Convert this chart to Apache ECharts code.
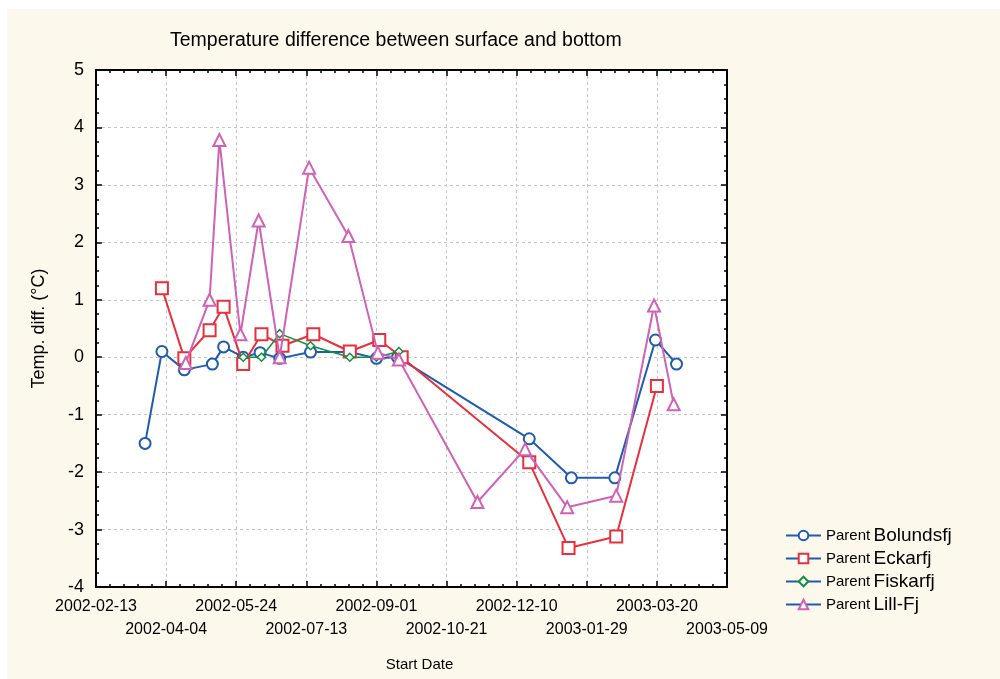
<!DOCTYPE html>
<html>
<head>
<meta charset="utf-8">
<title>Temperature difference between surface and bottom</title>
<script src="https://cdn.jsdelivr.net/npm/echarts@6/dist/echarts.min.js"></script>
<style>
  html, body { margin: 0; padding: 0; background: #ffffff; }
  #frame { position: absolute; left: 7px; top: 9px; right: 0; bottom: 0; background: #fcf8ec; }
  #chart { position: absolute; left: 0; top: 0; width: 1000px; height: 679px; }
</style>
</head>
<body>
<div id="frame"></div>
<div id="chart"></div>
<script>
// x axis is counted in days from the first tick
const startDate = '2002-02-13';
const xTickLabels = ['2002-02-13', '2002-04-04', '2002-05-24', '2002-07-13', '2002-09-01',
  '2002-10-21', '2002-12-10', '2003-01-29', '2003-03-20', '2003-05-09'];

const bolundDates = ['2002-03-20', '2002-04-01', '2002-04-17', '2002-05-07', '2002-05-15',
  '2002-05-29', '2002-06-10', '2002-06-24', '2002-07-16', '2002-08-13', '2002-09-01',
  '2002-09-16', '2002-12-19', '2003-01-18', '2003-02-18', '2003-03-19', '2003-04-03'];
const bolundValues = [-1.5, 0.1, -0.22, -0.12, 0.18, 0.0, 0.08, -0.02, 0.09, 0.09, -0.02,
  0.0, -1.42, -2.1, -2.1, 0.3, -0.12];

const eckarDates = ['2002-04-01', '2002-04-17', '2002-05-05', '2002-05-15', '2002-05-29',
  '2002-06-11', '2002-06-26', '2002-07-18', '2002-08-13', '2002-09-03', '2002-09-19',
  '2002-12-19', '2003-01-16', '2003-02-19', '2003-03-20'];
const eckarValues = [1.2, -0.02, 0.47, 0.88, -0.12, 0.4, 0.2, 0.4, 0.1, 0.3, 0.0,
  -1.83, -3.32, -3.12, -0.5];

const fiskarDates = ['2002-05-29', '2002-06-11', '2002-06-24', '2002-07-16', '2002-08-13',
  '2002-09-01', '2002-09-17'];
const fiskarValues = [0.0, 0.0, 0.41, 0.2, 0.0, 0.0, 0.1];

const lillDates = ['2002-04-18', '2002-05-05', '2002-05-12', '2002-05-27', '2002-06-09',
  '2002-06-24', '2002-07-15', '2002-08-12', '2002-09-02', '2002-09-17', '2002-11-12',
  '2002-12-16', '2003-01-15', '2003-02-19', '2003-03-18', '2003-04-01'];
const lillValues = [-0.1, 1.0, 3.78, 0.4, 2.38, 0.0, 3.3, 2.11, 0.08, -0.04, -2.52,
  -1.6, -2.61, -2.41, 0.9, -0.82];

const DAY = 86400000;
function dayOf(d) {
  return Math.round((Date.parse(d + 'T00:00:00Z') - Date.parse(startDate + 'T00:00:00Z')) / DAY);
}
function pairs(dates, values) {
  return dates.map((d, i) => [dayOf(d), values[i]]);
}

const font = 'Liberation Sans, Arial, sans-serif';
const legendLine = '#1f5cae';

const chart = echarts.init(document.getElementById('chart'));

const xBase = {
  type: 'value',
  min: 0,
  max: 450,
  interval: 50,
  axisLine: { onZero: false, lineStyle: { color: '#000', width: 2 } },
  axisTick: { inside: true, length: 6, lineStyle: { color: '#000', width: 1.5 } },
  minorTick: { show: true, splitNumber: 5, length: 3, lineStyle: { color: '#000', width: 1.5 } }
};
const yBase = {
  type: 'value',
  min: -4,
  max: 5,
  interval: 1,
  axisLine: { onZero: false, lineStyle: { color: '#000', width: 2 } },
  axisTick: { inside: true, length: 6, lineStyle: { color: '#000', width: 1.5 } },
  minorTick: { show: true, splitNumber: 4, length: 3, lineStyle: { color: '#000', width: 1.5 } }
};
const gridLine = { show: true, lineStyle: { color: '#c4c4c4', type: [3, 3], width: 1 } };

// labels alternate between two rows: even ticks on the first, odd on the second
function rowLabel(row) {
  return v => {
    const i = Math.round(v / 50);
    return i % 2 === row ? xTickLabels[i] : '';
  };
}

function lineSeries(name, data, color, symbol, size, width, z) {
  return {
    name: name,
    type: 'line',
    data: data,
    symbol: symbol,
    symbolSize: size,
    showAllSymbol: true,
    z: z,
    lineStyle: { color: color, width: width },
    itemStyle: { color: '#ffffff', borderColor: color, borderWidth: width },
    emphasis: { disabled: true },
    animation: false
  };
}

chart.setOption({
  animation: false,
  textStyle: { fontFamily: font },
  title: {
    text: 'Temperature difference between surface and bottom',
    left: 165,
    top: 26,
    textStyle: { fontFamily: font, fontSize: 19.5, fontWeight: 'normal', color: '#000' }
  },
  grid: {
    left: 96, right: 273, top: 70, bottom: 92,
    show: true, backgroundColor: '#ffffff', borderWidth: 0
  },
  legend: {
    orient: 'vertical',
    left: 780,
    top: 521,
    itemWidth: 35,
    itemHeight: 12,
    itemGap: 4,
    selectedMode: false,
    formatter: name => '{p|Parent} {n|' + name + '}',
    textStyle: {
      fontFamily: font, color: '#000',
      rich: {
        p: { fontSize: 15, fontFamily: font, color: '#000', lineHeight: 22 },
        n: { fontSize: 19, fontFamily: font, color: '#000', lineHeight: 22 }
      }
    },
    data: [
      { name: 'Bolundsfj', lineStyle: { color: legendLine, width: 2 } },
      { name: 'Eckarfj', lineStyle: { color: legendLine, width: 2 } },
      { name: 'Fiskarfj', lineStyle: { color: legendLine, width: 2 } },
      { name: 'Lill-Fj', lineStyle: { color: legendLine, width: 2 } }
    ]
  },
  xAxis: [
    Object.assign({}, xBase, {
      position: 'bottom',
      name: 'Start Date',
      nameLocation: 'middle',
      nameGap: 70,
      nameTextStyle: { fontFamily: font, fontSize: 15, color: '#000', padding: [0, 0, 0, 16] },
      splitLine: gridLine,
      axisLabel: {
        color: '#000', fontFamily: font, fontSize: 16, margin: 12,
        showMinLabel: true, showMaxLabel: true, formatter: rowLabel(0)
      }
    }),
    Object.assign({}, xBase, {
      position: 'top',
      splitLine: { show: false },
      axisLabel: { show: false }
    }),
    Object.assign({}, xBase, {
      position: 'bottom',
      axisLine: { show: false, onZero: false },
      axisTick: { show: false },
      minorTick: { show: false },
      splitLine: { show: false },
      axisLabel: {
        color: '#000', fontFamily: font, fontSize: 16, margin: 35,
        showMinLabel: true, showMaxLabel: true, formatter: rowLabel(1)
      }
    })
  ],
  yAxis: [
    Object.assign({}, yBase, {
      position: 'left',
      name: 'Temp. diff. (°C)',
      nameLocation: 'middle',
      nameRotate: 90,
      nameGap: 48,
      nameTextStyle: { fontFamily: font, fontSize: 18, color: '#000' },
      splitLine: gridLine,
      axisLabel: { color: '#000', fontFamily: font, fontSize: 18, margin: 12,
        showMinLabel: true, showMaxLabel: true }
    }),
    Object.assign({}, yBase, {
      position: 'right',
      splitLine: { show: false },
      axisLabel: { show: false }
    })
  ],
  series: [
    lineSeries('Bolundsfj', pairs(bolundDates, bolundValues), '#1f5cae', 'circle', 11, 2, 2),
    lineSeries('Eckarfj', pairs(eckarDates, eckarValues), '#e8303c', 'rect', 12, 2, 3),
    lineSeries('Fiskarfj', pairs(fiskarDates, fiskarValues), '#12903f', 'diamond', 8, 1.5, 4),
    lineSeries('Lill-Fj', pairs(lillDates, lillValues), '#cf62b6', 'triangle', 12, 2, 5)
  ]
});
</script>
</body>
</html>
